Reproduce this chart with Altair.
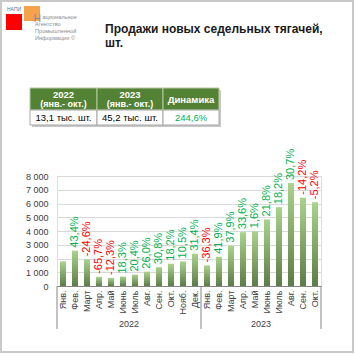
import altair as alt
import pandas as pd

# ---------------- data ----------------
years = ["2022"] * 12 + ["2023"] * 10
months = ["Янв.", "Фев.", "Март", "Апр.", "Май", "Июнь", "Июль", "Авг.", "Сен.", "Окт.", "Нояб.", "Дек.",
          "Янв.", "Фев.", "Март", "Апр.", "Май", "Июнь", "Июль", "Авг.", "Сен.", "Окт."]
sales = [1790, 2570, 1940, 665, 585, 690, 830, 1045, 1370, 1620, 1790, 2350,
         1500, 2125, 2930, 3915, 3980, 4845, 5730, 7490, 6425, 6090]
changes = ["", "43,4%", "-24,6%", "-65,7%", "-12,3%", "18,3%", "20,4%", "26,0%", "30,8%", "18,2%", "10,5%", "31,4%",
           "-36,3%", "41,9%", "37,9%", "33,6%", "1,6%", "21,8%", "18,2%", "30,7%", "-14,2%", "-5,2%"]
y_ticks = [0, 1000, 2000, 3000, 4000, 5000, 6000, 7000, 8000]

title_lines = ["Продажи новых седельных тягачей,", "шт."]
table_head = [["2022", "(янв.- окт.)"], ["2023", "(янв.- окт.)"], ["Динамика"]]
table_vals = ["13,1 тыс. шт.", "45,2 тыс. шт.", "244,6%"]
logo_lines = ["ациональное", "Агентство", "Промышленной", "Информации ©"]

keys = [f"{y}|{m}" for y, m in zip(years, months)]
df = pd.DataFrame({"key": keys, "year": years, "month": months, "sales": sales, "change": changes})

# group separators / year labels
sep_left = []
year_mid = []
for yr in ["2022", "2023"]:
    idx = [i for i, y in enumerate(years) if y == yr]
    sep_left.append(keys[idx[0]])
    year_mid.append({"key": keys[idx[0] + len(idx) // 2], "year": yr})
sep_df = pd.DataFrame({"key": sep_left})
end_df = pd.DataFrame({"key": [keys[-1]]})
year_df = pd.DataFrame(year_mid)

# ---------------- layout ----------------
PL, PT = 57, 176
W, H = 264, 110
one = pd.DataFrame({"a": [0]})
FONT = "Liberation Sans"


def box(x1, y1, x2, y2, **kw):
    return alt.Chart(one).mark_rect(**kw).encode(
        x=alt.value(x1 - PL), x2=alt.value(x2 - PL), y=alt.value(y1 - PT), y2=alt.value(y2 - PT))


def txt(x, y, text, **kw):
    return alt.Chart(one).mark_text(text=text, font=FONT, **kw).encode(
        x=alt.value(x - PL), y=alt.value(y - PT))


layers = []
# outer frame
layers.append(box(1, 1, 353, 352, fill=None, filled=False, stroke="#C9C9C9", strokeWidth=2))

# logo
layers.append(txt(7, 11, "НАПИ", fontSize=5, color="#4F6FA8", align="left", baseline="alphabetic"))
layers.append(box(6, 14, 22, 30, color="#FF0000"))
layers.append(box(24, 6, 40, 21, color="#F5A24A"))
layers.append(txt(33.5, 22, "Н", fontSize=10.5, color="#8A8A8A", align="left", baseline="alphabetic"))
for i, (line, lx) in enumerate(zip(logo_lines, [42.5, 35, 35, 35])):
    layers.append(txt(lx, 19 + 7 * i, line, fontSize=5.6, color="#8C8C8C", align="left", baseline="alphabetic"))

# title
for i, line in enumerate(title_lines):
    layers.append(txt(105, 33 + 14 * i, line, fontSize=12, fontWeight="bold", color="#1A1A1A",
                      align="left", baseline="alphabetic"))

# table
cols = [30, 97, 163, 219]
layers.append(box(32, 90, 221, 127, color="#C8C8C8"))
for c in range(3):
    layers.append(box(cols[c], 88, cols[c + 1], 110, fill="#548235", stroke="#B5C9A3", strokeWidth=1))
    layers.append(box(cols[c], 110, cols[c + 1], 125, fill="#FFFFFF", stroke="#A6A6A6", strokeWidth=1))
    cx = (cols[c] + cols[c + 1]) / 2
    head = table_head[c]
    if len(head) == 2:
        layers.append(txt(cx, 95, head[0], fontSize=9.5, fontWeight="bold", color="white", baseline="middle"))
        layers.append(txt(cx, 104, head[1], fontSize=9, fontWeight="bold", color="white", baseline="middle"))
    else:
        layers.append(txt(cx, 99.5, head[0], fontSize=9.5, fontWeight="bold", color="white", baseline="middle"))
    layers.append(txt(cx, 118, table_vals[c], fontSize=9.5,
                      color="#00B050" if c == 2 else "#000000", baseline="middle"))

# ---------------- chart ----------------
xscale = alt.Scale(paddingInner=0.5, paddingOuter=0.25)
yscale = alt.Scale(domain=[0, 8000], nice=False)
x_axis = alt.Axis(labelExpr="split(datum.label, '|')[1]", labelAngle=270, labelAlign="right",
                  labelBaseline="middle", labelPadding=4, labelFontSize=9, labelColor="#404040",
                  ticks=False, domainColor="#868686", domainWidth=1, grid=False, labelFont=FONT,
                  labelOverlap=False)
y_axis = alt.Axis(values=y_ticks, labelExpr="replace(format(datum.value, ','), ',', ' ')",
                  labelFontSize=9, labelColor="#404040", labelPadding=9, ticks=False, domain=False,
                  gridColor="#D9D9D9", gridWidth=1, labelFont=FONT, labelOverlap=False,
                  labelFlush=False)


def X(**kw):
    return alt.X("key:N", sort=keys, scale=xscale, title=None, axis=x_axis, **kw)


grad = alt.Gradient(gradient="linear", x1=1, x2=1, y1=1, y2=0,
                    stops=[alt.GradientStop(color="#5D7C47", offset=0),
                           alt.GradientStop(color="#A9D48C", offset=1)])

bars = alt.Chart(df).mark_bar(color=grad).encode(
    x=X(),
    y=alt.Y("sales:Q", scale=yscale, title=None, axis=y_axis),
)

labels = alt.Chart(df).transform_filter("datum.change != ''").transform_calculate(
    col="indexof(datum.change, '-') == 0 ? '#FF0000' : '#00B050'"
).mark_text(angle=270, align="left", baseline="middle", dx=3, fontSize=11, font=FONT).encode(
    x=X(),
    y=alt.Y("sales:Q", scale=yscale, title=None, axis=y_axis),
    text="change:N",
    color=alt.Color("col:N", scale=None),
)

seps = alt.Chart(sep_df).mark_rule(color="#868686", strokeWidth=1, xOffset=-3).encode(
    x=X(bandPosition=0),
    y=alt.value(H), y2=alt.value(153),
)
sep_end = alt.Chart(end_df).mark_rule(color="#868686", strokeWidth=1, xOffset=3).encode(
    x=X(bandPosition=1),
    y=alt.value(H), y2=alt.value(153),
)
year_labels = alt.Chart(year_df).mark_text(fontSize=9, color="#404040", baseline="middle", xOffset=-3,
                                           font=FONT).encode(
    x=X(bandPosition=0),
    y=alt.value(148),
    text="year:N",
)

chart = alt.layer(*layers, bars, labels, seps, sep_end, year_labels).properties(
    width=W, height=H,
    autosize=alt.AutoSizeParams(type="none"),
    padding={"left": PL, "top": PT, "right": 355 - PL - W, "bottom": 356 - PT - H},
).configure_view(strokeWidth=0).configure(background="white", font=FONT)

chart.save("out.html", embed_options={"renderer": "svg", "actions": False})
